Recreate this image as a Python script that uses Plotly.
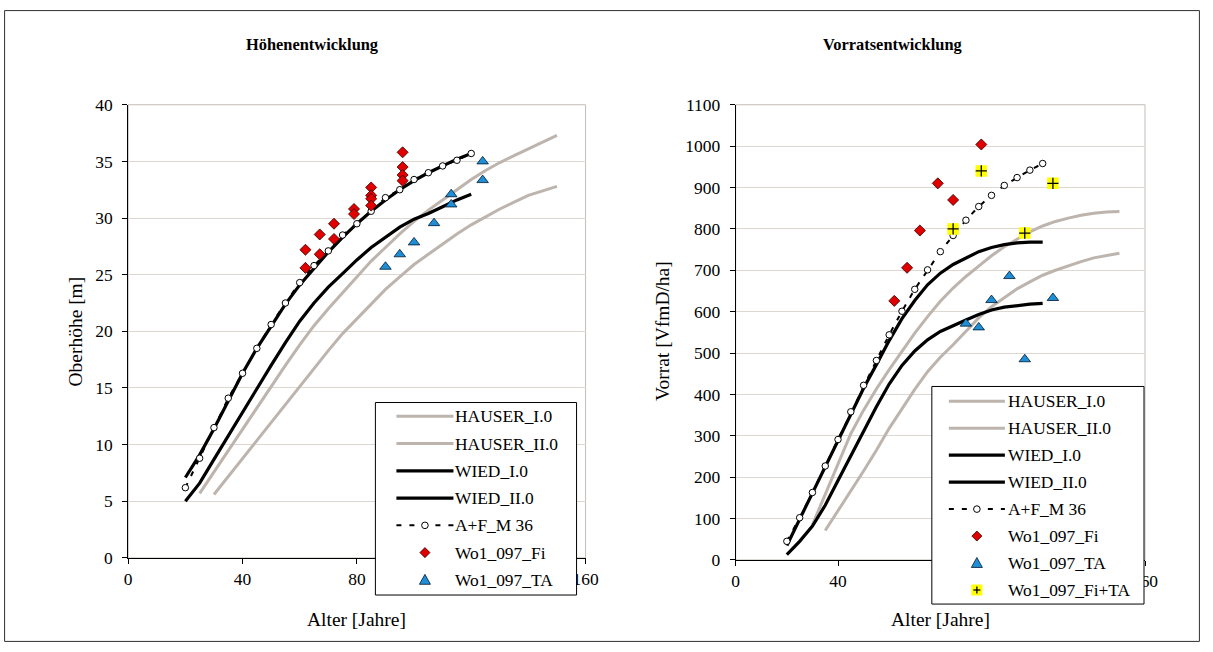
import plotly.graph_objects as go

W, H = 1213, 652

# ---------------- data: left chart (Oberhöhe [m]) ----------------
ages = [20, 25, 30, 35, 40, 45, 50, 55, 60, 65, 70, 75, 80, 85, 90, 95, 100, 105, 110, 115, 120]
hauser_i_age = [25, 30, 35, 40, 45, 50, 55, 60, 65, 70, 75, 80, 85, 90, 95, 100, 105, 110, 115, 120, 125, 130, 135, 140, 145, 150]
hauser_ii_age = [30, 35, 40, 45, 50, 55, 60, 65, 70, 75, 80, 85, 90, 95, 100, 105, 110, 115, 120, 125, 130, 135, 140, 145, 150]

h_hauser_i = [5.7, 7.6, 9.5, 11.4, 13.3, 15.2, 17.0, 18.8, 20.5, 22.0, 23.4, 24.8, 26.2, 27.4, 28.6, 29.7,
              30.7, 31.6, 32.5, 33.4, 34.2, 34.9, 35.5, 36.1, 36.7, 37.3]
h_hauser_ii = [5.6, 7.2, 8.8, 10.4, 12.0, 13.6, 15.2, 16.8, 18.3, 19.8, 21.1, 22.4, 23.7, 24.8, 25.9, 26.8,
               27.7, 28.6, 29.4, 30.1, 30.8, 31.4, 32.0, 32.4, 32.8]
h_wied_i = [7.1, 9.1, 11.4, 13.9, 16.3, 18.5, 20.5, 22.4, 24.1, 25.6, 27.0, 28.3, 29.5, 30.6, 31.6, 32.5,
            33.3, 34.0, 34.6, 35.2, 35.7]
h_wied_ii = [5.0, 6.6, 8.7, 10.8, 12.9, 15.0, 17.0, 19.0, 20.9, 22.5, 23.9, 25.1, 26.3, 27.4, 28.3, 29.2,
             29.9, 30.4, 31.0, 31.6, 32.1]
h_af = [6.2, 8.8, 11.5, 14.1, 16.3, 18.5, 20.6, 22.5, 24.3, 25.8, 27.1, 28.5, 29.5, 30.6, 31.8, 32.5,
        33.4, 34.0, 34.6, 35.1, 35.7]

fi_age_h = [62, 62, 67, 67, 72, 72, 79, 79, 85, 85, 85, 85, 96, 96, 96, 96]
fi_h = [27.2, 25.6, 28.55, 26.8, 29.5, 28.15, 30.8, 30.35, 32.7, 32.0, 31.7, 31.1, 35.8, 34.5, 33.8, 33.3]
ta_age_h = [90, 95, 100, 107, 113, 113, 124, 124]
ta_h = [25.7, 26.8, 27.85, 29.55, 32.1, 31.2, 35.0, 33.35]

# ---------------- data: right chart (Vorrat [VfmD/ha]) ----------------
hauser_i_age_v = [30, 35, 40, 45, 50, 55, 60, 65, 70, 75, 80, 85, 90, 95, 100, 105, 110, 115, 120, 125, 130, 135, 140, 145, 150]
hauser_ii_age_v = [35, 40, 45, 50, 55, 60, 65, 70, 75, 80, 85, 90, 95, 100, 105, 110, 115, 120, 125, 130, 135, 140, 145, 150]
v_hauser_i = [85, 158, 232, 305, 362, 413, 460, 505, 548, 588, 625, 657, 685, 710, 735, 757, 775, 793, 807,
              818, 826, 833, 838, 841, 842]
v_hauser_ii = [71, 118, 165, 215, 265, 318, 365, 412, 455, 490, 520, 553, 585, 612, 634, 655, 672, 688, 700,
               711, 721, 730, 736, 741]
v_wied_i = [35, 98, 160, 224, 288, 352, 415, 472, 530, 583, 627, 665, 693, 714, 730, 745, 755, 762, 766, 768, 768]
v_wied_ii = [13, 45, 82, 132, 192, 252, 310, 370, 425, 470, 505, 532, 552, 567, 580, 593, 604, 611, 615, 618, 620]
v_af = [45, 102, 163, 227, 291, 358, 422, 482, 544, 601, 654, 701, 745, 784, 821, 854, 881, 905, 924, 942, 958]

fi_age_v = [62, 67, 72, 79, 85, 96]
fi_v = [626, 706, 796, 910, 870, 1004]
ta_age_v = [90, 95, 100, 107, 113, 124]
ta_v = [571, 562, 628, 686, 485, 633]
fita_age_v = [85, 96, 113, 124]
fita_v = [800, 940, 790, 910]

names = ["HAUSER_I.0", "HAUSER_II.0", "WIED_I.0", "WIED_II.0", "A+F_M 36", "Wo1_097_Fi", "Wo1_097_TA", "Wo1_097_Fi+TA"]
x_ticks = [0, 40, 80, 120, 160]
x_ticktext = ["0", "40", "80", "", "160"]   # 120 is hidden behind the legend box in the original

# ---------------- styles ----------------
FONT = "Liberation Serif"
GRAY = "#bdb4ad"
GRID = "#ddd7d1"
RED = "#e00000"
BLUE = "#1e8ed6"
YELLOW = "#ffff00"
GRAY_W, BLACK_W = 3, 3.2
AF_DASH = "5px,8px"
FS = 1.025  # font compensation for the photographed page scale

# the photographed page is slightly scaled/offset: final = off + scale * page
SX, OX = 0.9852, 3.9
SY, OY = 0.9668, 10.5


def page_x(xr):
    return (xr - OX) / SX


def page_y(yr):
    return (yr - OY) / SY


def px_x(xr):  # reference pixel -> paper x
    return page_x(xr) / W


def px_y(yr):  # reference pixel -> paper y
    return 1 - page_y(yr) / H


fig = go.Figure()


def add_set(xa, ya, data):
    (hi_x, hi_y, hii_x, hii_y, wx, wi_y, wii_y, af_y, fi_x, fi_y, ta_x, ta_y, extra) = data
    common = dict(xaxis=xa, yaxis=ya, showlegend=False)
    fig.add_trace(go.Scatter(x=hi_x, y=hi_y, mode="lines", name=names[0],
                             line=dict(color=GRAY, width=GRAY_W), **common))
    fig.add_trace(go.Scatter(x=hii_x, y=hii_y, mode="lines", name=names[1],
                             line=dict(color=GRAY, width=GRAY_W), **common))
    fig.add_trace(go.Scatter(x=wx, y=wi_y, mode="lines", name=names[2],
                             line=dict(color="black", width=BLACK_W), **common))
    fig.add_trace(go.Scatter(x=wx, y=wii_y, mode="lines", name=names[3],
                             line=dict(color="black", width=BLACK_W), **common))
    fig.add_trace(go.Scatter(x=wx, y=af_y, mode="lines+markers", name=names[4],
                             line=dict(color="black", width=2, dash=AF_DASH),
                             marker=dict(symbol="circle", size=6.5, color="white",
                                         line=dict(color="black", width=1)), **common))
    fig.add_trace(go.Scatter(x=fi_x, y=fi_y, mode="markers", name=names[5],
                             marker=dict(symbol="diamond", size=8.5, color=RED,
                                         line=dict(color="#300000", width=0.8)), **common))
    fig.add_trace(go.Scatter(x=ta_x, y=ta_y, mode="markers", name=names[6],
                             marker=dict(symbol="triangle-up", size=10, color=BLUE,
                                         line=dict(color="#001830", width=0.8)), **common))
    if extra is not None:
        fx, fy = extra
        fig.add_trace(go.Scatter(x=fx, y=fy, mode="markers", name=names[7],
                                 marker=dict(symbol="square", size=11.5, color=YELLOW,
                                             line=dict(width=0)), **common))
        fig.add_trace(go.Scatter(x=fx, y=fy, mode="markers", name=names[7],
                                 marker=dict(symbol="cross-thin", size=8, color="black",
                                             line=dict(color="black", width=1.3)), **common))


add_set("x", "y",
        (hauser_i_age, h_hauser_i, hauser_ii_age, h_hauser_ii, ages, h_wied_i, h_wied_ii, h_af,
         fi_age_h, fi_h, ta_age_h, ta_h, None))
add_set("x2", "y2",
        (hauser_i_age_v, v_hauser_i, hauser_ii_age_v, v_hauser_ii, ages, v_wied_i, v_wied_ii, v_af,
         fi_age_v, fi_v, ta_age_v, ta_v, (fita_age_v, fita_v)))

tickfont = dict(family=FONT, size=17 * FS, color="black")
axis_common = dict(showline=True, linecolor="black", linewidth=1.2, ticks="outside", ticklen=5,
                   tickcolor="black", tickwidth=1, tickfont=tickfont, zeroline=False, fixedrange=True)

# plot areas in reference pixels
L_x0, L_x1 = 128, 585
R_x0, R_x1 = 735, 1144
L_top, L_bot = 105, 557
R_top, R_bot = 105, 559

fig.update_layout(
    width=W, height=H,
    margin=dict(l=0, r=0, t=0, b=0),
    paper_bgcolor="white", plot_bgcolor="white",
    font=dict(family=FONT, color="black"),
    showlegend=False,
    xaxis=dict(domain=[px_x(L_x0), px_x(L_x1)], range=[0, 160], tickvals=x_ticks, ticktext=x_ticktext,
               anchor="y", showgrid=False, ticklabelstandoff=0, **axis_common),
    yaxis=dict(domain=[px_y(L_bot), px_y(L_top)], range=[0, 40], dtick=5, anchor="x",
               showgrid=True, gridcolor=GRID, gridwidth=1, ticklabelstandoff=6, **axis_common),
    xaxis2=dict(domain=[px_x(R_x0), px_x(R_x1)], range=[0, 160], tickvals=x_ticks, ticktext=x_ticktext,
                anchor="y2", showgrid=False, ticklabelstandoff=0, **axis_common),
    yaxis2=dict(domain=[px_y(R_bot), px_y(R_top)], range=[0, 1100], dtick=100, anchor="x2",
                showgrid=True, gridcolor=GRID, gridwidth=1, ticklabelstandoff=6, **axis_common),
)

shapes = []
annotations = []

# plot area borders (gray)
for xa, ya in (("x", "y"), ("x2", "y2")):
    shapes.append(dict(type="rect", xref=xa + " domain", yref=ya + " domain", x0=0, x1=1, y0=0, y1=1,
                       line=dict(color="#c4bdb7", width=1), layer="below"))
# outer chart border (as close to the page edge as the page allows)
shapes.append(dict(type="rect", xref="paper", yref="paper", x0=0.6 / W, x1=1 - 0.6 / W,
                   y0=0.6 / H, y1=1 - 0.6 / H, line=dict(color="#303030", width=1)))


# ---------------- legend boxes (positions in reference pixels) ----------------
def pth(points):
    return "M " + " L ".join(f"{px_x(a):.5f},{px_y(b):.5f}" for a, b in points) + " Z"


def legend_box(x0, y0, x1, y1, row0, step, line_x0, line_x1, text_x, entries):
    shapes.append(dict(type="rect", xref="paper", yref="paper", x0=px_x(x0), x1=px_x(x1),
                       y0=px_y(y1), y1=px_y(y0), line=dict(color="black", width=1),
                       fillcolor="white", layer="above"))
    cx = (line_x0 + line_x1) / 2
    for i, (name, kind) in enumerate(entries):
        yy = row0 + i * step
        if kind in ("gray", "black", "af"):
            col = GRAY if kind == "gray" else "black"
            wid = GRAY_W if kind == "gray" else (BLACK_W if kind == "black" else 2)
            dash = AF_DASH if kind == "af" else "solid"
            shapes.append(dict(type="line", xref="paper", yref="paper", x0=px_x(line_x0), x1=px_x(line_x1),
                               y0=px_y(yy), y1=px_y(yy), line=dict(color=col, width=wid, dash=dash),
                               layer="above"))
        if kind == "af":
            r = 3.3
            shapes.append(dict(type="circle", xref="paper", yref="paper", x0=px_x(cx - r), x1=px_x(cx + r),
                               y0=px_y(yy + r), y1=px_y(yy - r), fillcolor="white",
                               line=dict(color="black", width=1), layer="above"))
        elif kind == "fi":
            r = 5
            shapes.append(dict(type="path", xref="paper", yref="paper",
                               path=pth([(cx, yy - r), (cx + r, yy), (cx, yy + r), (cx - r, yy)]),
                               fillcolor=RED, line=dict(color="#300000", width=0.8), layer="above"))
        elif kind == "ta":
            r = 5.5
            shapes.append(dict(type="path", xref="paper", yref="paper",
                               path=pth([(cx, yy - r), (cx + r, yy + r * 0.8), (cx - r, yy + r * 0.8)]),
                               fillcolor=BLUE, line=dict(color="#001830", width=0.8), layer="above"))
        elif kind == "fita":
            r = 5.5
            shapes.append(dict(type="rect", xref="paper", yref="paper", x0=px_x(cx - r), x1=px_x(cx + r),
                               y0=px_y(yy + r), y1=px_y(yy - r), fillcolor=YELLOW,
                               line=dict(width=0), layer="above"))
            for (ax0, ay0, ax1, ay1) in ((cx - 3.5, yy, cx + 3.5, yy), (cx, yy - 3.5, cx, yy + 3.5)):
                shapes.append(dict(type="line", xref="paper", yref="paper", x0=px_x(ax0), x1=px_x(ax1),
                                   y0=px_y(ay0), y1=px_y(ay1), line=dict(color="black", width=1.3),
                                   layer="above"))
        annotations.append(dict(text=name, x=px_x(text_x), y=px_y(yy), xref="paper", yref="paper",
                                showarrow=False, xanchor="left", yanchor="middle",
                                font=dict(family=FONT, size=17 * FS, color="black")))


kinds = ["gray", "gray", "black", "black", "af", "fi", "ta", "fita"]
legend_box(375, 402, 576, 594, 415.7, 27.2, 396, 453, 453,
           list(zip(names[:7], kinds[:7])))
legend_box(931, 386, 1143, 603, 400.7, 26.9, 948, 1004, 1005,
           list(zip(names, kinds)))

# ---------------- titles ----------------
for text, x, y, size, angle in [
    ("<b>Höhenentwicklung</b>", 312, 45, 16, 0),
    ("<b>Vorratsentwicklung</b>", 892, 45, 16, 0),
    ("Alter [Jahre]", (L_x0 + L_x1) / 2, 618, 19, 0),
    ("Alter [Jahre]", (R_x0 + R_x1) / 2, 618, 19, 0),
    ("Oberhöhe [m]", 75, 331, 19, -90),
    ("Vorrat [VfmD/ha]", 662, 331, 19, -90),
]:
    annotations.append(dict(text=text, x=px_x(x), y=px_y(y), xref="paper", yref="paper", showarrow=False,
                            xanchor="center", yanchor="middle", textangle=angle,
                            font=dict(family=FONT, size=size * FS, color="black")))

fig.update_layout(shapes=shapes, annotations=annotations)

fig.write_html("out.html", config={"displayModeBar": False},
               post_script="document.body.style.margin='0px';document.body.style.overflow='hidden';")
